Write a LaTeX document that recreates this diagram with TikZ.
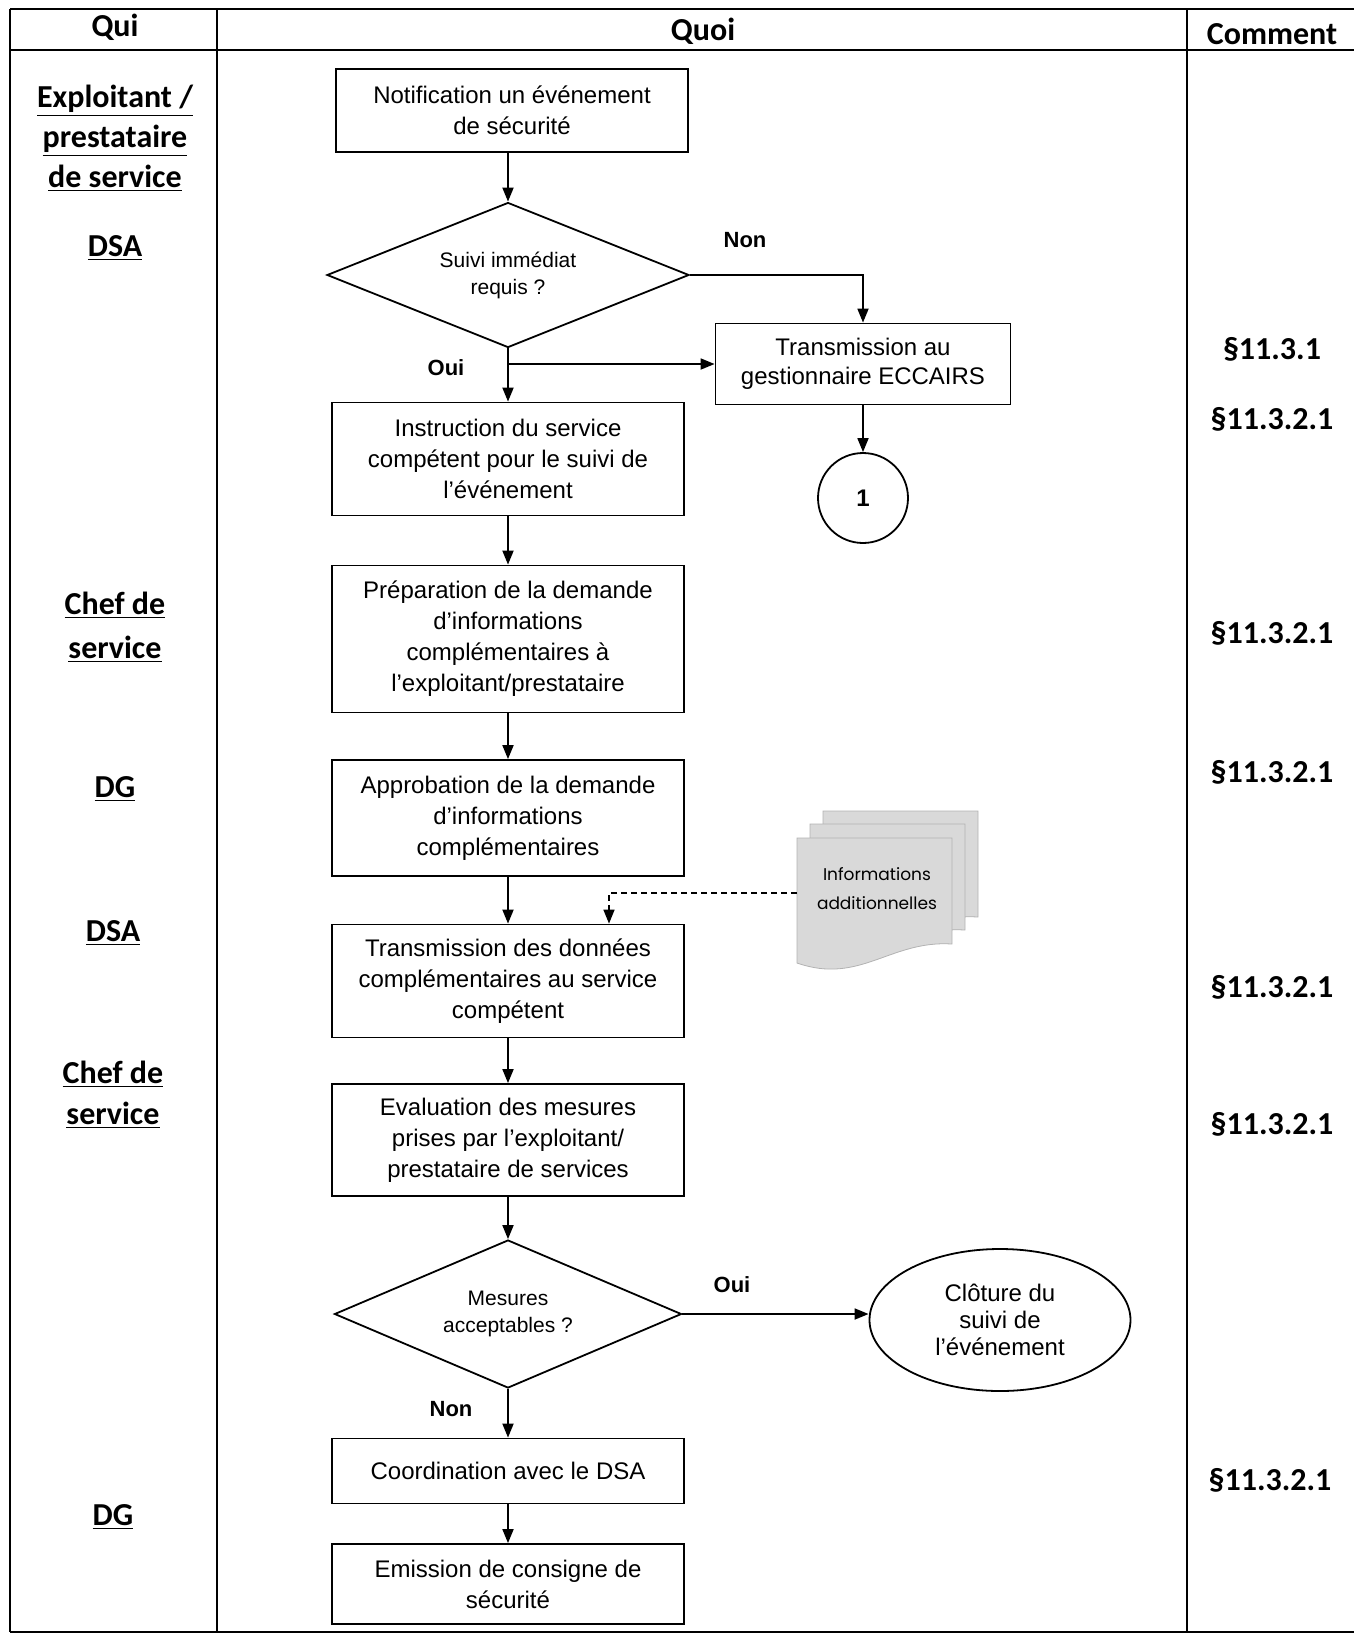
\documentclass[tikz,border=0pt]{standalone}
\usepackage{fontspec}
\setmainfont{Liberation Sans}
\newfontfamily\calib{Carlito}
\newfontfamily\gothic{Poppins}
\usepackage{tikz}
\usetikzlibrary{shapes.geometric,arrows.meta}

\tikzset{
  box/.style={draw, line width=0.9pt, minimum width=176pt, align=center, inner sep=2pt, font=\fontsize{12}{15.5}\selectfont},
  choice/.style={draw, diamond, aspect=2.4, line width=0.9pt, inner sep=0pt, align=center, font=\fontsize{10.5}{13.5}\selectfont},
  arr/.style={line width=0.9pt, -{Triangle[length=7pt,width=5.5pt]}},
  lbl/.style={font=\bfseries\fontsize{11}{13}\selectfont},
  who/.style={align=center, font=\calib\bfseries\fontsize{16}{20}\selectfont},
  para/.style={font=\calib\bfseries\fontsize{16}{19}\selectfont},
  tbl/.style={line width=0.7pt},
  sheet/.style={draw=gray!60, fill=gray!30, line width=0.4pt}
}
\newcommand{\docsheet}[2]{\draw[sheet, shift={(#1,#2)}] (797,838) -- (952,838) -- (952,944) .. controls (890,940) and (860,985) .. (797,963) -- cycle;}

\begin{document}
\begin{tikzpicture}[x=0.5pt, y=-0.5pt]
\useasboundingbox (0,0) rectangle (1354,1635);

% table
\draw[tbl] (10,9) -- (1354,9);
\draw[tbl] (10,50) -- (1354,50);
\draw[tbl] (10,1632) -- (1354,1632);
\draw[tbl] (10,9) -- (10,1632);
\draw[tbl] (217,9) -- (217,1632);
\draw[tbl] (1187,9) -- (1187,1632);
\node[para] (hqui) at (115,27) {Qui};
\node[para] (hquoi) at (703,31) {Quoi};
\node[para] (hcomment) at (1272,34) {Comment};

% qui
\node[who] (qexpl) at (115,138) {\underline{Exploitant /}\\\underline{prestataire}\\\underline{de service}};
\node[who] (qdsa) at (115,248) {\underline{DSA}};
\node[who, font=\calib\bfseries\fontsize{16}{22}\selectfont] (qchef) at (115,627) {\underline{Chef de}\\\underline{service}};
\node[who] (qdg) at (115,789) {\underline{DG}};
\node[who] (qdsb) at (113,933) {\underline{DSA}};
\node[who, font=\calib\bfseries\fontsize{16}{20.5}\selectfont] (qchefb) at (113,1095) {\underline{Chef de}\\\underline{service}};
\node[who] (qdgb) at (113,1517) {\underline{DG}};

% comment
\node[para] (c1) at (1272,349) {§11.3.1};
\node[para] (c2) at (1272,419) {§11.3.2.1};
\node[para] (c3) at (1272,633) {§11.3.2.1};
\node[para] (c4) at (1272,772) {§11.3.2.1};
\node[para] (c5) at (1272,987) {§11.3.2.1};
\node[para] (c6) at (1272,1124) {§11.3.2.1};
\node[para] (c7) at (1270,1480) {§11.3.2.1};

% quoi
\node[box, minimum height=41.5pt] (notif) at (512,110.5) {Notification un événement\\de sécurité};
\node[choice, minimum width=181pt, minimum height=72.5pt] (suivi) at (508,275) {Suivi immédiat\\requis ?};
\node[box, minimum width=147.5pt, minimum height=40.5pt, font=\fontsize{12}{14.6}\selectfont] (eccairs) at (863,364) {Transmission au\\gestionnaire ECCAIRS};
\node[draw, circle, line width=0.9pt, minimum size=45pt, font=\bfseries\fontsize{12}{14}\selectfont] (renvoi) at (863,498) {1};
\node[box, minimum height=56.5pt] (instr) at (508,459) {Instruction du service\\compétent pour le suivi de\\l’événement};
\node[box, minimum height=73.5pt] (prep) at (508,639) {Préparation de la demande\\d’informations\\complémentaires à\\l’exploitant/prestataire};
\node[box, minimum height=58pt] (appro) at (508,818) {Approbation de la demande\\d’informations\\complémentaires};
\node[box, minimum height=56.5pt] (transm) at (508,981) {Transmission des données\\complémentaires au service\\compétent};
\node[box, minimum height=56pt] (evalu) at (508,1140) {Evaluation des mesures\\prises par l’exploitant/\\prestataire de services};
\node[choice, minimum width=173.5pt, minimum height=74pt] (mesures) at (508,1314) {Mesures\\acceptables ?};
\node[draw, ellipse, line width=0.9pt, minimum width=130.5pt, minimum height=71pt, align=center, font=\fontsize{12}{13.5}\selectfont] (cloture) at (1000,1320) {Clôture du\\suivi de\\l’événement};
\node[box, minimum height=32.5pt] (coord) at (508,1471) {Coordination avec le DSA};
\node[box, minimum height=40pt] (emis) at (508,1584) {Emission de consigne de\\sécurité};

% informations additionnelles
\docsheet{26}{-27}
\docsheet{13}{-14}
\docsheet{0}{0}
\node[align=center, font=\gothic\fontsize{8.5}{14.5}\selectfont] (infos) at (877,889) {Informations\\additionnelles};
\coordinate (infosin) at (797,893);

\node[lbl] (lnon) at (745,240) {Non};
\node[lbl] (loui) at (446,368) {Oui};
\node[lbl] (louib) at (732,1285) {Oui};
\node[lbl] (lnonb) at (451,1409) {Non};

\draw[arr] (notif.south -| suivi.north) -- (suivi.north);
\draw[arr] (suivi.east) -| (eccairs.north);
\draw[arr] (suivi.south) -- (instr.north);
\draw[arr] (suivi.south |- eccairs.west) -- (eccairs.west);
\draw[arr] (eccairs) -- (renvoi);
\draw[arr] (instr) -- (prep);
\draw[arr] (prep) -- (appro);
\draw[arr] (appro) -- (transm);
\draw[arr, line width=0.8pt, dash pattern=on 3pt off 2pt] (infosin) -| ([xshift=50.5pt]transm.north);
\draw[arr] (transm) -- (evalu);
\draw[arr] (evalu) -- (mesures);
\draw[arr] (mesures.east) -- (mesures.east -| cloture.west);
\draw[arr] (mesures) -- (coord);
\draw[arr] (coord) -- (emis);
\end{tikzpicture}
\end{document}
